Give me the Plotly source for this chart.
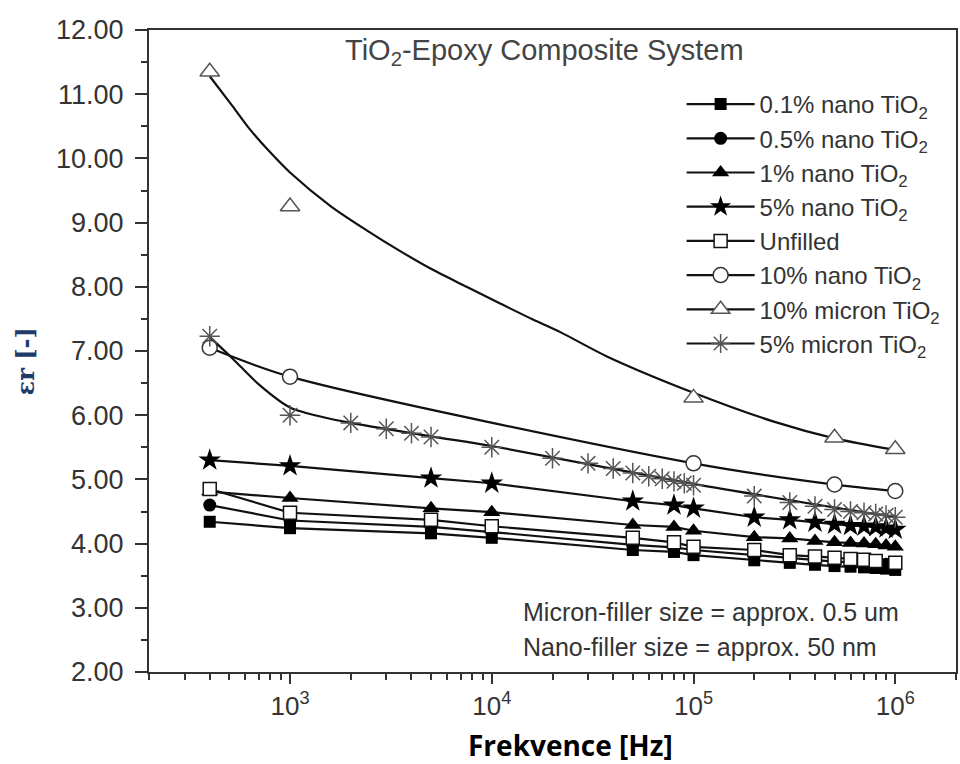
import plotly.graph_objects as go

# ---- measured relative permittivity vs. frequency ----
f_nano01 = [400, 1000, 5000, 1e4, 5e4, 8e4, 1e5, 2e5, 3e5, 4e5, 5e5, 6e5, 7e5, 8e5, 9e5, 1e6]
eps_nano01 = [4.34, 4.24, 4.16, 4.09, 3.90, 3.87, 3.82, 3.74, 3.70, 3.67, 3.65, 3.64, 3.63, 3.62, 3.61, 3.59]

f_nano05 = [400, 1000, 5000, 1e4, 5e4, 8e4, 1e5, 2e5, 3e5, 4e5, 5e5, 6e5, 7e5, 8e5, 9e5, 1e6]
eps_nano05 = [4.60, 4.36, 4.26, 4.18, 3.98, 3.94, 3.90, 3.82, 3.78, 3.75, 3.72, 3.71, 3.70, 3.69, 3.68, 3.67]

f_nano1 = [400, 1000, 5000, 1e4, 5e4, 8e4, 1e5, 2e5, 3e5, 4e5, 5e5, 6e5, 7e5, 8e5, 9e5, 1e6]
eps_nano1 = [4.81, 4.71, 4.55, 4.49, 4.29, 4.26, 4.20, 4.10, 4.08, 4.04, 4.02, 4.01, 4.00, 3.99, 3.97, 3.95]

f_nano5 = [400, 1000, 5000, 1e4, 5e4, 8e4, 1e5, 2e5, 3e5, 4e5, 5e5, 6e5, 7e5, 8e5, 9e5, 1e6]
eps_nano5 = [5.30, 5.21, 5.02, 4.94, 4.66, 4.60, 4.55, 4.41, 4.37, 4.33, 4.30, 4.28, 4.27, 4.26, 4.24, 4.22]

f_unfilled = [400, 1000, 5000, 1e4, 5e4, 8e4, 1e5, 2e5, 3e5, 4e5, 5e5, 6e5, 7e5, 8e5, 1e6]
eps_unfilled = [4.85, 4.48, 4.37, 4.27, 4.09, 4.02, 3.95, 3.90, 3.82, 3.80, 3.78, 3.76, 3.75, 3.73, 3.70]

f_nano10 = [400, 1000, 1e5, 5e5, 1e6]
eps_nano10 = [7.05, 6.60, 5.25, 4.92, 4.82]

f_micron10 = [400, 1000, 1e5, 5e5, 1e6]
eps_micron10 = [11.35, 9.25, 6.27, 5.65, 5.47]

f_micron5 = [400, 1000, 2000, 3000, 4000, 5000, 1e4, 2e4, 3e4, 4e4, 5e4, 6e4, 7e4, 8e4, 9e4,
             1e5, 2e5, 3e5, 4e5, 5e5, 6e5, 7e5, 8e5, 9e5, 1e6]
eps_micron5 = [7.23, 6.00, 5.88, 5.79, 5.72, 5.66, 5.50, 5.33, 5.25, 5.17, 5.10, 5.05, 5.01, 4.97, 4.94,
               4.91, 4.74, 4.64, 4.58, 4.53, 4.50, 4.48, 4.46, 4.44, 4.41]

# smooth fitted curves for the two micron-filled systems
f_fit_micron10 = [400, 520, 630, 800, 1000, 1600, 2400, 3500, 5000, 7500, 11000, 16000, 22000,
                  37000, 1e5, 2.5e5, 5e5, 1e6]
eps_fit_micron10 = [11.28, 10.81, 10.46, 10.09, 9.78, 9.25, 8.88, 8.56, 8.28, 8.00, 7.74, 7.49, 7.29,
                    6.92, 6.35, 5.90, 5.64, 5.46]

f_fit_micron5 = [400, 520, 700, 1000, 1500, 2000, 5000, 1e4, 1e5, 1e6]
eps_fit_micron5 = [7.22, 6.88, 6.48, 6.12, 5.96, 5.88, 5.67, 5.52, 4.93, 4.41]

# axis tick labels
x_tickvals = [1e3, 1e4, 1e5, 1e6]
x_ticktext = ["10<sup>3</sup>", "10<sup>4</sup>", "10<sup>5</sup>", "10<sup>6</sup>"]
x_minor = [m * 10 ** e for e in range(2, 7) for m in range(2, 10)]

TIO2 = "TiO<sub>2</sub>"
LINE = dict(color="#111111", width=2.2)

series = [
    # name, x, y, marker, line source (None -> through the points), line shape
    ("0.1% nano " + TIO2, f_nano01, eps_nano01,
     dict(symbol="square", size=12, color="#000000"), None, "linear"),
    ("0.5% nano " + TIO2, f_nano05, eps_nano05,
     dict(symbol="circle", size=13, color="#000000"), None, "linear"),
    ("1% nano " + TIO2, f_nano1, eps_nano1,
     dict(symbol="triangle-up", size=15, color="#000000"), None, "linear"),
    ("5% nano " + TIO2, f_nano5, eps_nano5,
     dict(symbol="star", size=17, color="#000000"), None, "linear"),
    ("Unfilled", f_unfilled, eps_unfilled,
     dict(symbol="square", size=13, color="#ffffff", line=dict(color="#111111", width=1.5)), None, "linear"),
    ("10% nano " + TIO2, f_nano10, eps_nano10,
     dict(symbol="circle", size=15, color="#ffffff", line=dict(color="#333333", width=1.5)), None, "spline"),
    ("10% micron " + TIO2, f_micron10, eps_micron10,
     dict(symbol="triangle-up", size=17, color="#ffffff", line=dict(color="#555555", width=1.5)),
     (f_fit_micron10, eps_fit_micron10), "spline"),
    ("5% micron " + TIO2, f_micron5, eps_micron5,
     dict(symbol="asterisk-open", size=17, color="#555555", line=dict(color="#555555", width=1.5)),
     (f_fit_micron5, eps_fit_micron5), "spline"),
]

fig = go.Figure()

# connecting / fitted lines underneath all symbols
for name, x, y, mk, fit, shape in series:
    lx, ly = fit if fit is not None else (x, y)
    fig.add_trace(go.Scatter(x=lx, y=ly, mode="lines", line=dict(LINE, shape=shape, smoothing=0.8),
                             showlegend=False, hoverinfo="skip"))

# measured points
for name, x, y, mk, fit, shape in series:
    fig.add_trace(go.Scatter(x=x, y=y, mode="markers", marker=mk, name=name, showlegend=False))

# legend entries (line + symbol)
for i, (name, x, y, mk, fit, shape) in enumerate(series):
    fig.add_trace(go.Scatter(x=[None], y=[None], mode="lines+markers", marker=mk, line=LINE,
                             name=name, legendgroup=f"g{i}", showlegend=True))

TXT = "#333333"
fig.update_layout(
    width=960, height=764,
    margin=dict(l=149, r=2, t=30, b=92),
    paper_bgcolor="white", plot_bgcolor="white",
    font=dict(family="Liberation Sans, Arial, sans-serif", color=TXT),
    showlegend=True,
    legend=dict(x=0.66, y=0.919, xanchor="left", yanchor="top",
                bgcolor="rgba(0,0,0,0)", font=dict(size=24, color=TXT),
                traceorder="grouped", tracegroupgap=0, itemwidth=68),
    xaxis=dict(type="log", range=[2.30103, 6.30103],
               tickvals=x_tickvals, ticktext=x_ticktext,
               ticks="outside", ticklen=10, tickwidth=1.5, tickcolor="#333",
               tickfont=dict(size=26, color=TXT),
               minor=dict(tickvals=x_minor, ticks="outside", ticklen=6, tickwidth=1.5, tickcolor="#333"),
               showline=True, linecolor="#333", linewidth=2, mirror=True,
               showgrid=False, zeroline=False),
    yaxis=dict(range=[2, 12], dtick=1, tick0=2, tickformat=".2f",
               ticks="outside", ticklen=12, tickwidth=1.5, tickcolor="#333",
               ticklabelstandoff=6,
               tickfont=dict(size=27, color=TXT),
               minor=dict(dtick=0.5, ticks="outside", ticklen=6, tickwidth=1.5, tickcolor="#333"),
               showline=True, linecolor="#333", linewidth=2, mirror=True,
               showgrid=False, zeroline=False),
)

fig.add_annotation(text="TiO<sub>2</sub>-Epoxy Composite System", xref="paper", yref="paper",
                   x=0.49, y=0.966, xanchor="center", yanchor="middle", showarrow=False,
                   font=dict(size=29, color="#444444"))
fig.add_annotation(text="Micron-filler size = approx. 0.5 um", xref="paper", yref="paper",
                   x=0.461, y=0.0935, xanchor="left", yanchor="middle", showarrow=False,
                   font=dict(size=25, color=TXT))
fig.add_annotation(text="Nano-filler size = approx. 50 nm", xref="paper", yref="paper",
                   x=0.461, y=0.039, xanchor="left", yanchor="middle", showarrow=False,
                   font=dict(size=25, color=TXT))
fig.add_annotation(text="<b>Frekvence [Hz]</b>", xref="paper", yref="paper",
                   x=0.522, y=-0.113, xanchor="center", yanchor="middle", showarrow=False,
                   font=dict(size=28, color="#000000", family="Open Sans, sans-serif"))
fig.add_annotation(text="<b>εr [-]</b>", xref="paper", yref="paper",
                   x=-0.153, y=0.483, xanchor="center", yanchor="middle", showarrow=False,
                   textangle=-90,
                   font=dict(size=24, color="#1f3a68", family="DejaVu Serif, serif"))

fig.write_html("out.html")
